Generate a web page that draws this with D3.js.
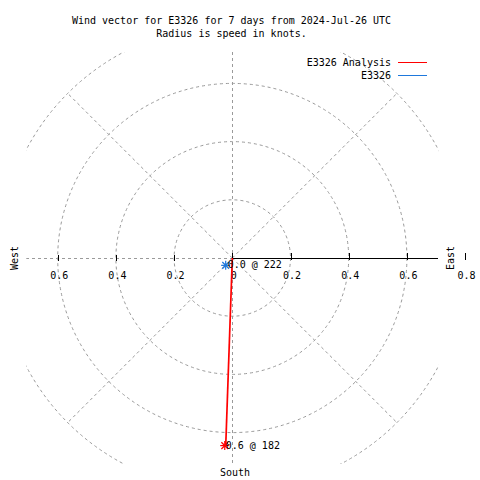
<!DOCTYPE html>
<html><head><meta charset="utf-8">
<script src="https://cdn.jsdelivr.net/npm/d3@7"></script>
<style>
html,body{margin:0;padding:0;background:#fff;}
text{font-family:"DejaVu Sans Mono",monospace;font-size:10px;fill:#000;}
</style></head>
<body><svg id="c" width="480" height="480"></svg>
<script>
// ---- data ----
const titleLines = ["Wind vector for E3326 for 7 days from 2024-Jul-26 UTC", "Radius is speed in knots."];
const seriesNames = ["E3326 Analysis", "E3326"];
const seriesColors = ["#ff0000", "#1e78dc"];
const analysisSpeed = [0.0, 0.645];
const analysisDir = [182, 182];
const obsSpeed = [0.034];
const obsDir = [222];
const ringValues = [0.2, 0.4, 0.6, 0.8];
const tickLabels = ["0", "0.2", "0.4", "0.6", "0.8"];
const spokeAngles = [45, 135, 225, 315];

// ---- layout ----
const svg = d3.select("#c");
const cx = 232.3, cy = 258;
const r = d3.scaleLinear().domain([0, 0.8]).range([0, 232.8]);
const half = 206;
const box = {x0: cx - half, x1: cx + half, y0: cy - half, y1: cy + half};
const pt = (s, d) => [cx + r(s) * Math.sin(d * Math.PI / 180), cy - r(s) * Math.cos(d * Math.PI / 180)];
const grid = "#9a9a9a";

svg.append("defs").append("clipPath").attr("id", "clip")
  .append("rect").attr("x", box.x0).attr("y", box.y0).attr("width", box.x1 - box.x0).attr("height", box.y1 - box.y0);

// title
svg.selectAll("text.title").data(titleLines).join("text").attr("class", "title")
  .attr("x", 231.5).attr("y", (d, i) => 24 + i * 13).attr("text-anchor", "middle").text(d => d);

const g = svg.append("g").attr("clip-path", "url(#clip)");
// rings
g.selectAll("circle.ring").data(ringValues).join("circle").attr("class", "ring")
  .attr("cx", cx).attr("cy", cy).attr("r", d => r(d))
  .attr("fill", "none").attr("stroke", grid).attr("stroke-dasharray", "3,3");
// spokes
g.selectAll("line.spoke").data(spokeAngles).join("line").attr("class", "spoke")
  .attr("x1", cx).attr("y1", cy)
  .attr("x2", d => pt(0.8, d)[0]).attr("y2", d => pt(0.8, d)[1])
  .attr("stroke", grid).attr("stroke-dasharray", "3,3");
// west dashed, vertical dashed
g.append("line").attr("x1", box.x0).attr("x2", cx).attr("y1", cy + 0.5).attr("y2", cy + 0.5)
  .attr("stroke", grid).attr("stroke-dasharray", "3,3").attr("shape-rendering", "crispEdges");
g.append("line").attr("x1", cx).attr("x2", cx).attr("y1", box.y0).attr("y2", box.y1)
  .attr("stroke", grid).attr("stroke-dasharray", "3,3").attr("shape-rendering", "crispEdges");
// east solid axis
svg.append("line").attr("x1", cx).attr("x2", box.x1).attr("y1", cy + 0.5).attr("y2", cy + 0.5)
  .attr("stroke", "#000").attr("stroke-width", 1).attr("shape-rendering", "crispEdges");

// ticks
const tickVals = [0, 0.2, 0.4, 0.6, 0.8];
svg.selectAll("line.tickE").data(tickVals).join("line").attr("class", "tickE")
  .attr("x1", d => Math.round(cx + r(d)) + 0.5).attr("x2", d => Math.round(cx + r(d)) + 0.5)
  .attr("y1", 253).attr("y2", 260).attr("stroke", "#000").attr("shape-rendering", "crispEdges");
svg.selectAll("line.tickW").data(tickVals.slice(1, 4)).join("line").attr("class", "tickW")
  .attr("x1", d => Math.round(cx - r(d)) + 0.5).attr("x2", d => Math.round(cx - r(d)) + 0.5)
  .attr("y1", 255).attr("y2", 261).attr("stroke", "#000").attr("shape-rendering", "crispEdges");
svg.selectAll("text.tlE").data(tickVals).join("text").attr("class", "tlE")
  .attr("x", d => cx + r(d) + 1.5).attr("y", 279).attr("text-anchor", "middle").text((d, i) => tickLabels[i]);
svg.selectAll("text.tlW").data(tickVals.slice(1, 4)).join("text").attr("class", "tlW")
  .attr("x", d => cx - r(d) + 1.5).attr("y", 279).attr("text-anchor", "middle").text((d, i) => tickLabels[i + 1]);

// compass labels
svg.append("text").attr("transform", `translate(18,${cy}) rotate(-90)`).attr("text-anchor", "middle").text("West");
svg.append("text").attr("transform", `translate(454,${cy}) rotate(-90)`).attr("text-anchor", "middle").text("East");
svg.append("text").attr("x", 235).attr("y", 476).attr("text-anchor", "middle").text("South");

// analysis line
const line = d3.line();
const aPts = analysisSpeed.map((s, i) => pt(s, analysisDir[i]));
svg.append("path").attr("d", line(aPts)).attr("fill", "none").attr("stroke", seriesColors[0]).attr("stroke-width", 1.7);

// asterisk markers
function star(p, color) {
  const s = 4.5;
  const gg = svg.append("g").attr("stroke", color).attr("stroke-width", 1.2);
  [[s, 0], [0, s], [s * 0.75, s * 0.75], [s * 0.75, -s * 0.75]].forEach(([dx, dy]) =>
    gg.append("line").attr("x1", p[0] - dx).attr("y1", p[1] - dy).attr("x2", p[0] + dx).attr("y2", p[1] + dy));
}
const oP = pt(obsSpeed[0], obsDir[0]);
star(oP, seriesColors[1]);
const endP = aPts[aPts.length - 1];
star([endP[0] - 1, endP[1]], seriesColors[0]);

svg.append("text").attr("x", oP[0] + 2).attr("y", oP[1] + 3)
  .text(`${obsSpeed[0].toFixed(1)} @ ${obsDir[0]}`);
svg.append("text").attr("x", endP[0]).attr("y", endP[1] + 3.5)
  .text(`${analysisSpeed[analysisSpeed.length - 1].toFixed(1)} @ ${analysisDir[analysisDir.length - 1]}`);

// legend
seriesNames.forEach((n, i) => {
  const y = 62 + i * 13;
  svg.append("text").attr("x", 391).attr("y", y + 4).attr("text-anchor", "end").text(n);
  svg.append("line").attr("x1", 398).attr("x2", 427).attr("y1", y + 0.5).attr("y2", y + 0.5)
    .attr("stroke", seriesColors[i]).attr("stroke-width", 1);
});
</script></body></html>
